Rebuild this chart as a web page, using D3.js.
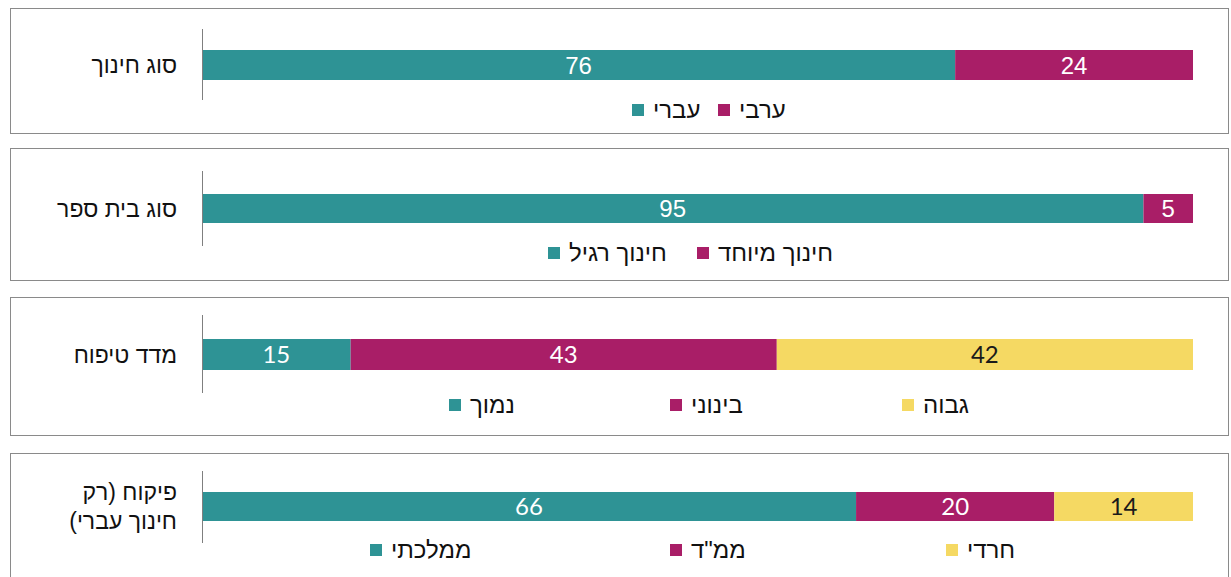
<!DOCTYPE html>
<html><head><meta charset="utf-8">
<script src="https://cdn.jsdelivr.net/npm/d3@7"></script>
<style>
html,body{margin:0;padding:0;background:#fff;}
svg{display:block;}
</style></head>
<body>
<svg id="chart" width="1231" height="577"></svg>
<script>
// ---- data ----
const categories = ["סוג חינוך", "סוג בית ספר", "מדד טיפוח", "פיקוח (רק חינוך עברי)"];
const categoryLines = [["סוג חינוך"], ["סוג בית ספר"], ["מדד טיפוח"], ["פיקוח (רק", "חינוך עברי)"]];
const seriesNames1 = ["עברי", "ערבי"];
const seriesValues1 = [76, 24];
const seriesNames2 = ["חינוך רגיל", "חינוך מיוחד"];
const seriesValues2 = [95, 5];
const seriesNames3 = ["נמוך", "בינוני", "גבוה"];
const seriesValues3 = [15, 43, 42];
const seriesNames4 = ["ממלכתי", "ממ\"ד", "חרדי"];
const seriesValues4 = [66, 20, 14];
const colors = ["#2E9395", "#A91E67", "#F5D963"];

// ---- layout ----
const panels = [
  {names: seriesNames1, values: seriesValues1, box: [8, 133], axis: [29, 100], bar: [50, 80], legendY: 110, legendX: [632, 718], numFont: "'Liberation Sans', Arial, sans-serif"},
  {names: seriesNames2, values: seriesValues2, box: [148, 280], axis: [171, 246], bar: [194, 223], legendY: 253, legendX: [548, 697], numFont: "'Liberation Sans', Arial, sans-serif"},
  {names: seriesNames3, values: seriesValues3, box: [297, 435], axis: [315, 393], bar: [339, 370], legendY: 405, legendX: [449, 670, 902], numFont: "Lato, 'Open Sans', sans-serif"},
  {names: seriesNames4, values: seriesValues4, box: [453, 610], axis: [471, 543], bar: [492, 521], legendY: 550, legendX: [370, 670, 946], numFont: "Lato, 'Open Sans', sans-serif"}
];

const svg = d3.select("#chart");
const x = d3.scaleLinear().domain([0, 100]).range([202, 1193]);
const hebFont = "'Liberation Sans', Arial, 'DejaVu Sans', sans-serif";

panels.forEach((p, i) => {
  const g = svg.append("g");
  g.append("rect")
    .attr("x", 10.5).attr("y", p.box[0] + 0.5)
    .attr("width", 1218).attr("height", p.box[1] - p.box[0])
    .attr("fill", "none").attr("stroke", "#8a8a8a").attr("stroke-width", 1);

  const y = d3.scaleBand().domain([categories[i]]).range(p.bar).padding(0);

  let cum = 0;
  const segs = p.values.map((v, k) => { const s = {k, v, x0: cum, x1: cum + v}; cum += v; return s; });

  g.selectAll("rect.bar").data(segs).join("rect")
    .attr("class", "bar")
    .attr("x", d => x(d.x0))
    .attr("y", y(categories[i]))
    .attr("width", d => x(d.x1) - x(d.x0))
    .attr("height", y.bandwidth())
    .attr("fill", d => colors[d.k]);

  g.selectAll("text.val").data(segs).join("text")
    .attr("class", "val")
    .attr("x", d => (x(d.x0) + x(d.x1)) / 2)
    .attr("y", y(categories[i]) + y.bandwidth() / 2)
    .attr("dy", "0.36em")
    .attr("text-anchor", "middle")
    .attr("font-family", p.numFont)
    .attr("font-size", 24)
    .attr("fill", d => d.k === 2 ? "#1a1a1a" : "#ffffff")
    .text(d => d.v);

  g.append("line")
    .attr("x1", x(0) + 0.5).attr("x2", x(0) + 0.5)
    .attr("y1", p.axis[0]).attr("y2", p.axis[1])
    .attr("stroke", "#7f7f7f").attr("stroke-width", 1);

  const lines = categoryLines[i];
  const cy = y(categories[i]) + y.bandwidth() / 2;
  const lh = 29;
  lines.forEach((ln, j) => {
    g.append("text")
      .attr("x", 177)
      .attr("y", cy + (j - (lines.length - 1) / 2) * lh)
      .attr("dy", "0.35em")
      .attr("direction", "rtl")
      .attr("text-anchor", "start")
      .attr("font-family", hebFont)
      .attr("font-size", 23)
      .attr("fill", "#111")
      .text(ln);
  });

  p.names.forEach((nm, k) => {
    const lx = p.legendX[k];
    g.append("rect")
      .attr("x", lx).attr("y", p.legendY - 6)
      .attr("width", 12).attr("height", 12)
      .attr("fill", colors[k]);
    g.append("text")
      .attr("x", lx + 21)
      .attr("y", p.legendY)
      .attr("dy", "0.35em")
      .attr("direction", "rtl")
      .attr("text-anchor", "end")
      .attr("font-family", hebFont)
      .attr("font-size", 24)
      .attr("fill", "#111")
      .text(nm);
  });
});
</script>
</body></html>
